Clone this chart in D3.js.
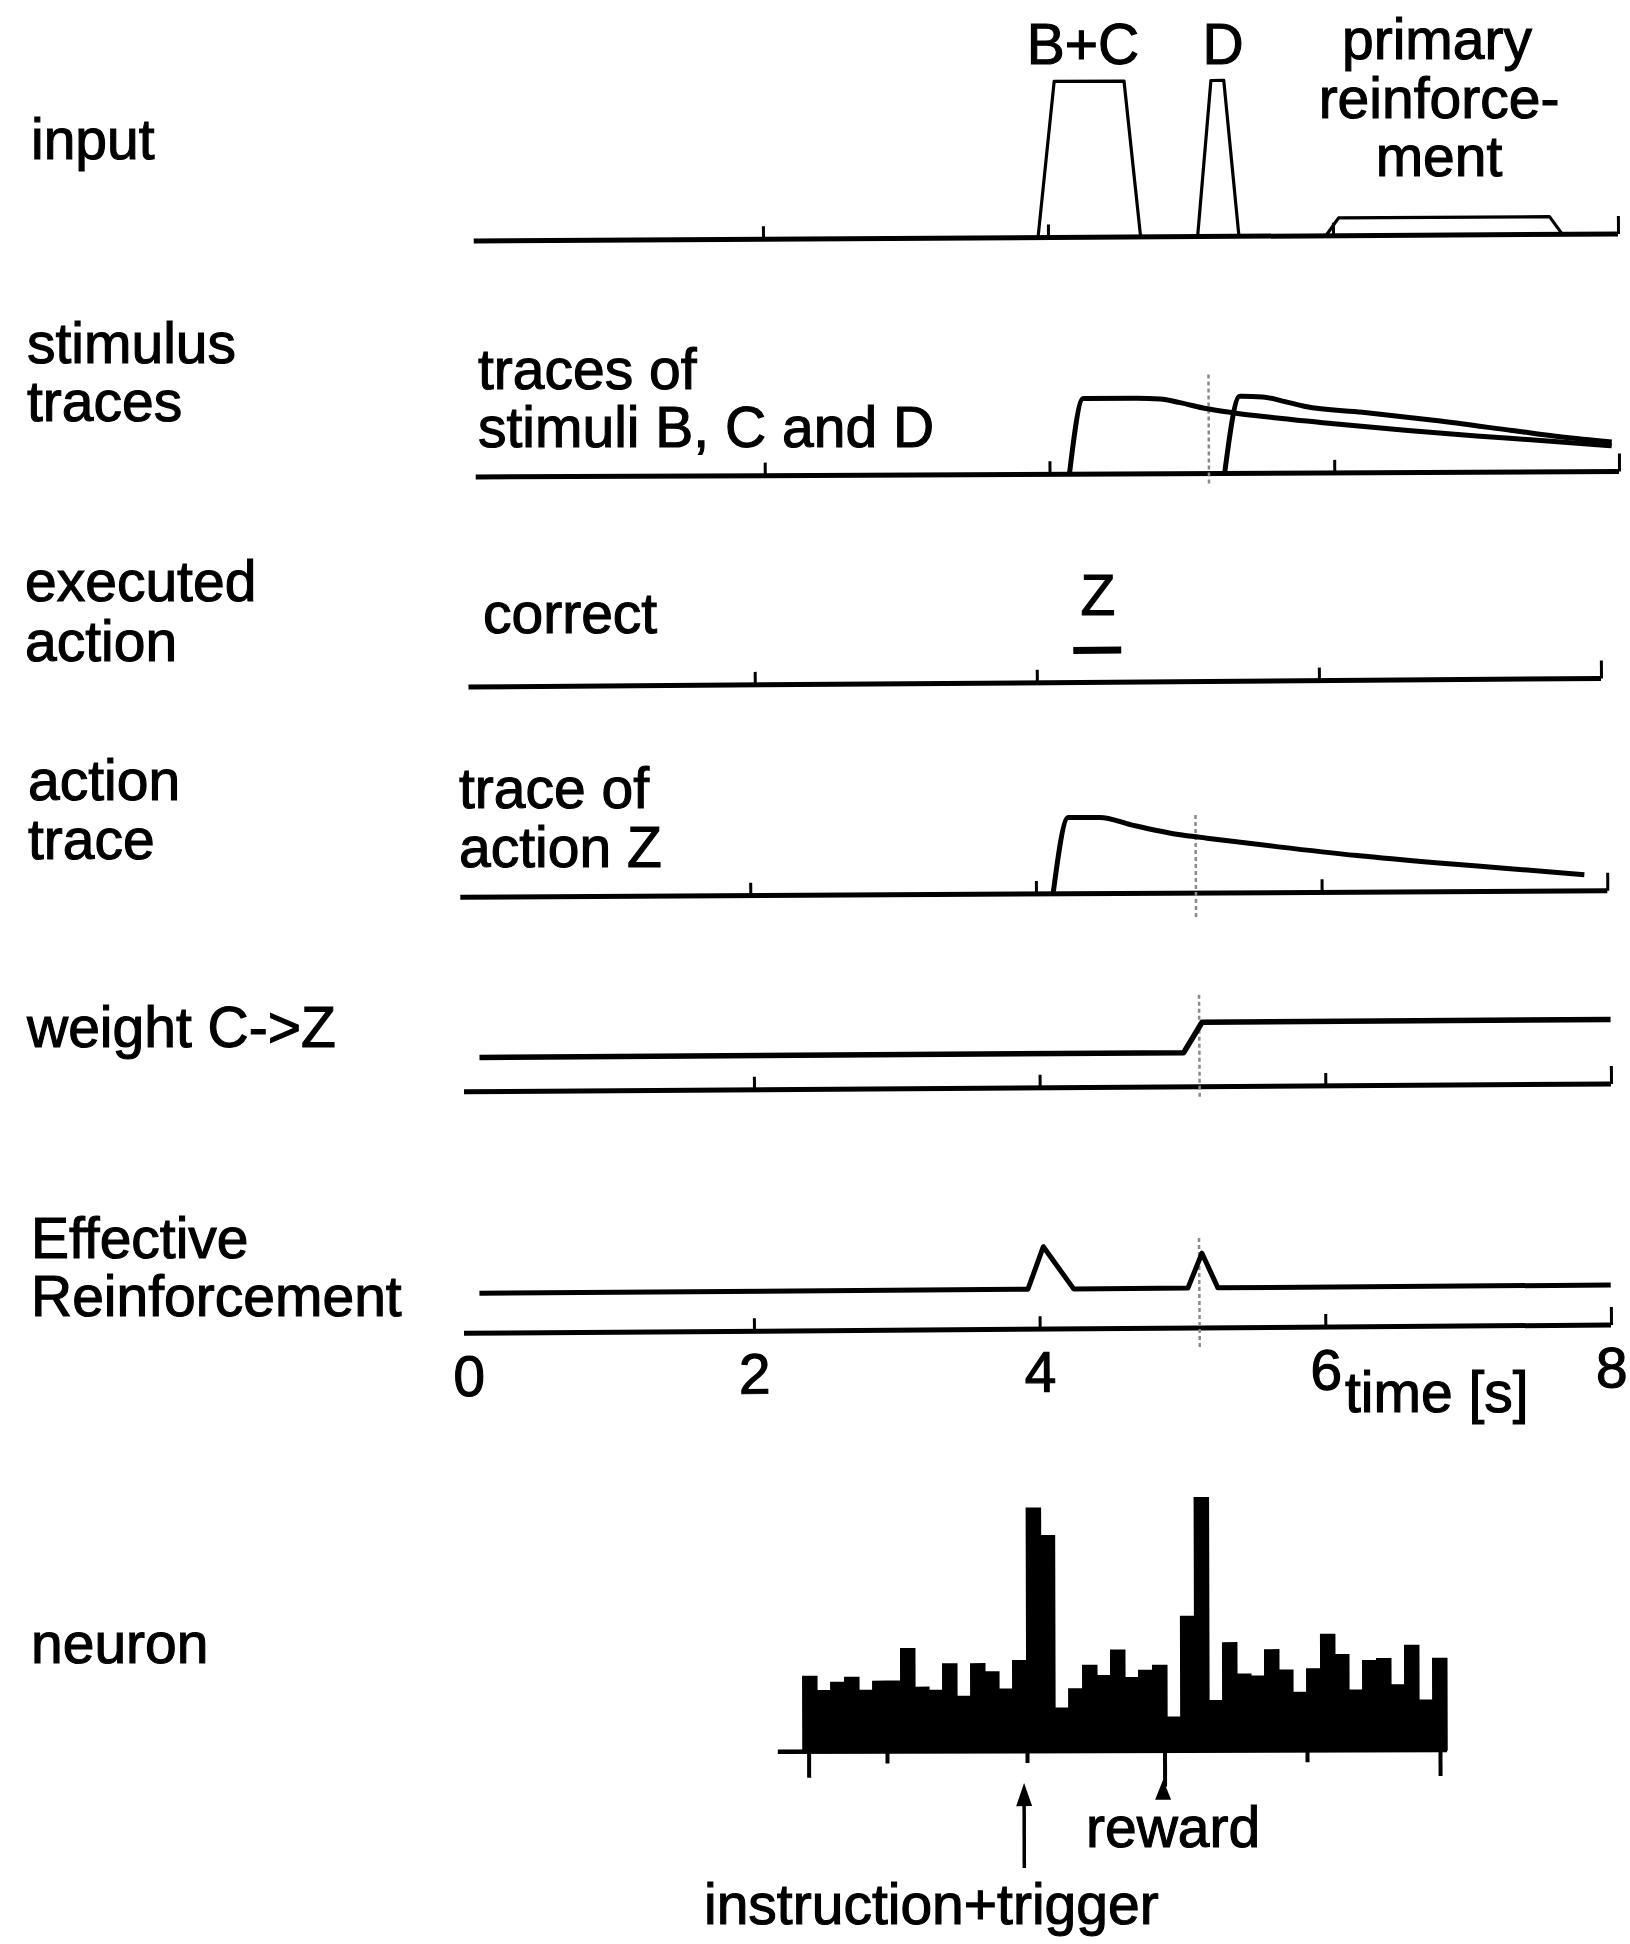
<!DOCTYPE html>
<html>
<head>
<meta charset="utf-8">
<script src="https://cdn.jsdelivr.net/npm/d3@7"></script>
<style>
  body { margin: 0; background: #fff; }
  svg text {
    font-family: "Liberation Sans", Arial, Helvetica, sans-serif;
    font-size: 57px;
    fill: #000;
    stroke: #000;
    stroke-width: 1.1px;
  }
</style>
</head>
<body>
<svg id="chart" width="1630" height="1944"></svg>
<script>
// ---- data ---------------------------------------------------------------
// model time axis (s)
const timeTicks = [2, 4, 6, 8];
const timeLabels = [0, 2, 4, 6, 8];

// input: stimuli B+C, stimulus D, primary reinforcement  [t (s), level]
const inputSignal = [[0, 0], [3.93, 0], [4.05, 1], [4.54, 1], [4.65, 0],
                     [5.05, 0], [5.15, 1], [5.24, 1], [5.34, 0],
                     [5.95, 0], [6.04, 0.114], [7.52, 0.114], [7.61, 0], [8, 0]];

// stimulus traces
const traceBC = [[4.14, 0], [4.24, 1], [4.6, 1], [4.78, 0.99], [4.92, 0.94], [5.1, 0.86],
                 [5.3, 0.8], [5.6, 0.73], [6.0, 0.65], [6.5, 0.56], [7.0, 0.48],
                 [7.5, 0.41], [7.95, 0.34]];
const traceD = [[5.23, 0], [5.34, 1.02], [5.5, 1.01], [5.65, 0.95], [5.8, 0.88],
                [6.2, 0.8], [6.7, 0.69], [7.25, 0.55], [7.6, 0.46], [7.95, 0.39]];

// executed action Z (on interval)
const actionZ = [[4.26, 1], [4.60, 1]];

// action trace of Z
const traceZ = [[4.12, 0], [4.23, 1], [4.45, 1], [4.67, 0.9], [5.0, 0.77], [5.2, 0.72],
                [5.7, 0.6], [6.25, 0.48], [6.8, 0.38], [7.3, 0.3], [7.84, 0.21]];

// weight C->Z
const weightCZ = [[0.08, 0.53], [5.01, 0.53], [5.14, 1], [8, 1]];

// effective reinforcement
const effReinf = [[0.08, 0], [3.92, 0], [4.03, 1], [4.24, 0], [5.04, 0],
                  [5.14, 0.82], [5.25, 0], [8, 0]];

// time of primary reward (dotted marker)
const rewardTime = 5.12;

// neuron: peri-event histogram, 100 ms bins from -1.6 s (0 = instruction+trigger)
const binStart = -1.6, binWidth = 0.1;
const neuronRate = [7.4, 6.0, 6.8, 7.3, 6.0, 6.9, 6.9, 10.1, 6.3, 6.0,
                    8.6, 5.4, 8.6, 7.8, 6.1, 8.9, 23.9, 21.2, 4.2, 6.1,
                    8.4, 7.4, 9.9, 7.2, 7.9, 8.4, 3.3, 13.2, 24.9, 4.9,
                    10.6, 7.5, 7.3, 9.9, 7.9, 5.7, 8.0, 11.4, 9.4, 5.9,
                    8.8, 9.0, 6.4, 10.3, 4.9, 9.0];
const histShortTicks = [-1, 0, 2];
const histLongTicks = [-1.56, 2.95];
const instructionTime = 0, rewardHistTime = 1;

// ---- drawing ------------------------------------------------------------
const svg = d3.select("#chart");
const BLACK = "#000";

function panel(cfg) {
  const len = Math.hypot(cfg.x8 - cfg.x0, cfg.yR - cfg.yL);
  const ang = Math.atan2(cfg.yR - cfg.yL, cfg.x8 - cfg.x0) * 180 / Math.PI;
  const g = svg.append("g")
    .attr("transform", `translate(${cfg.x0},${cfg.yL}) rotate(${ang})`);
  const x = d3.scaleLinear().domain([0, 8]).range([0, len]);
  const y = d3.scaleLinear().domain(cfg.yDomain).range(cfg.yRange);
  // time axis line
  g.append("line")
    .attr("x1", x(-0.03)).attr("x2", x(8))
    .attr("y1", 0).attr("y2", 0)
    .attr("stroke", BLACK).attr("stroke-width", 5);
  const ax = g.append("g")
    .call(d3.axisTop(x).tickValues(timeTicks).tickSize(12).tickFormat(""));
  ax.select(".domain").remove();
  ax.selectAll(".tick line")
    .attr("stroke-width", 3)
    .attr("y2", d => d === 8 ? -18 : -13);
  return { g, x, y };
}

function drawLine(p, data, width, curve) {
  const line = d3.line()
    .x(d => p.x(d[0]))
    .y(d => p.y(d[1]))
    .curve(curve || d3.curveLinear);
  p.g.append("path")
    .datum(data)
    .attr("d", line)
    .attr("fill", "none")
    .attr("stroke", BLACK)
    .attr("stroke-width", width)
    .attr("stroke-linejoin", "round");
}

function rewardMarker(p, below, above) {
  p.g.append("line")
    .attr("x1", p.x(rewardTime)).attr("x2", p.x(rewardTime))
    .attr("y1", below).attr("y2", -above)
    .attr("stroke", "#8a8a8a")
    .attr("stroke-width", 2.5)
    .attr("stroke-dasharray", "4,3");
}

function label(x, y, txt, anchor) {
  svg.append("text")
    .attr("x", x).attr("y", y)
    .attr("text-anchor", anchor || "start")
    .text(txt);
}

// row labels
label(31, 159, "input");
label(27, 363, "stimulus");
label(27, 421, "traces");
label(25, 601, "executed");
label(25, 661, "action");
label(28, 800, "action");
label(28, 859, "trace");
label(27, 1047, "weight C->Z");
label(31, 1258, "Effective");
label(31, 1316, "Reinforcement");
label(31, 1663, "neuron");

// input
const p1 = panel({ x0: 478, x8: 1618, yL: 241, yR: 234, yDomain: [0, 1], yRange: [0, -156] });
drawLine(p1, inputSignal, 3.2);
label(1083, 64, "B+C", "middle");
label(1223, 64, "D", "middle");
label(1437, 59, "primary", "middle");
label(1439, 118, "reinforce-", "middle");
label(1439, 176, "ment", "middle");

// stimulus traces
const p2 = panel({ x0: 480, x8: 1619, yL: 477, yR: 471.5, yDomain: [0, 1], yRange: [0, -75.5] });
rewardMarker(p2, 10, 100);
drawLine(p2, traceBC, 5, d3.curveMonotoneX);
drawLine(p2, traceD, 5, d3.curveMonotoneX);
label(478, 389, "traces of");
label(478, 447, "stimuli B, C and D");

// executed action
const p3 = panel({ x0: 472.7, x8: 1601, yL: 687, yR: 678.5, yDomain: [0, 1], yRange: [0, -32] });
drawLine(p3, actionZ, 7);
label(483, 633, "correct");
label(1098, 615, "Z", "middle");

// action trace
const p4 = panel({ x0: 464.6, x8: 1607.3, yL: 897.3, yR: 890.7, yDomain: [0, 1], yRange: [0, -76.2] });
rewardMarker(p4, 24, 80);
drawLine(p4, traceZ, 5, d3.curveMonotoneX);
label(459, 808, "trace of");
label(459, 867, "action Z");

// weight C->Z
const p5 = panel({ x0: 468.3, x8: 1611, yL: 1091.7, yR: 1084, yDomain: [0, 1], yRange: [0, -64.5] });
rewardMarker(p5, 10, 95);
drawLine(p5, weightCZ, 5.5);

// effective reinforcement
const p6 = panel({ x0: 468.3, x8: 1611, yL: 1333.3, yR: 1325, yDomain: [0, 1], yRange: [-40, -82.4] });
rewardMarker(p6, 19, 90);
drawLine(p6, effReinf, 5);
const lab = p6.g.append("g")
  .call(d3.axisBottom(p6.x).tickValues(timeLabels).tickSize(0).tickPadding(22).tickFormat(d3.format("d")));
lab.select(".domain").remove();
lab.selectAll("text").attr("font-size", null).attr("font-family", null);
label(1345, 1412, "time [s]");

// neuron histogram
const hx0 = 803, hx1 = 1447, hyL = 1751.7, hyR = 1750;
const hAng = Math.atan2(hyR - hyL, hx1 - hx0) * 180 / Math.PI;
const hg = svg.append("g").attr("transform", `translate(${hx0},${hyL}) rotate(${hAng})`);
const hx = d3.scaleLinear().domain([binStart, binStart + binWidth * neuronRate.length]).range([0, hx1 - hx0]);
const hy = d3.scaleLinear().domain([0, 25]).range([0, -254]);
const bins = neuronRate.map((v, i) => [binStart + i * binWidth, v]);
bins.push([binStart + neuronRate.length * binWidth, neuronRate[neuronRate.length - 1]]);
const area = d3.area()
  .x(d => hx(d[0]))
  .y0(0)
  .y1(d => hy(d[1]))
  .curve(d3.curveStepAfter);
hg.append("path").datum(bins).attr("d", area)
  .attr("fill", BLACK).attr("stroke", BLACK).attr("stroke-width", 1.5);
hg.append("line")
  .attr("x1", hx(-1.78)).attr("x2", hx(3.0))
  .attr("y1", 0).attr("y2", 0)
  .attr("stroke", BLACK).attr("stroke-width", 4.5);
const hax = hg.append("g")
  .call(d3.axisBottom(hx).tickValues(histShortTicks).tickSize(12).tickFormat(""));
hax.select(".domain").remove();
hax.selectAll(".tick line").attr("stroke-width", 4);
const hax2 = hg.append("g")
  .call(d3.axisBottom(hx).tickValues(histLongTicks).tickSize(26).tickFormat(""));
hax2.select(".domain").remove();
hax2.selectAll(".tick line").attr("stroke-width", 4);

// reward: tick ending in a small upward arrowhead
const rx = hx(rewardHistTime) - 2;
hg.append("line").attr("x1", rx).attr("x2", rx).attr("y1", 0).attr("y2", 36)
  .attr("stroke", BLACK).attr("stroke-width", 4);
hg.append("path")
  .attr("d", `M${rx - 2},29 L${rx - 10},49 L${rx + 6},49 Z`)
  .attr("fill", BLACK);

// instruction+trigger arrow
const ix = hx(instructionTime) - 3;
hg.append("line").attr("x1", ix).attr("x2", ix).attr("y1", 48).attr("y2", 117)
  .attr("stroke", BLACK).attr("stroke-width", 3.5);
hg.append("path")
  .attr("d", `M${ix},32 L${ix - 8},55 L${ix + 8},55 Z`)
  .attr("fill", BLACK);

label(1086, 1847, "reward");
label(704, 1924, "instruction+trigger");
</script>
</body>
</html>
